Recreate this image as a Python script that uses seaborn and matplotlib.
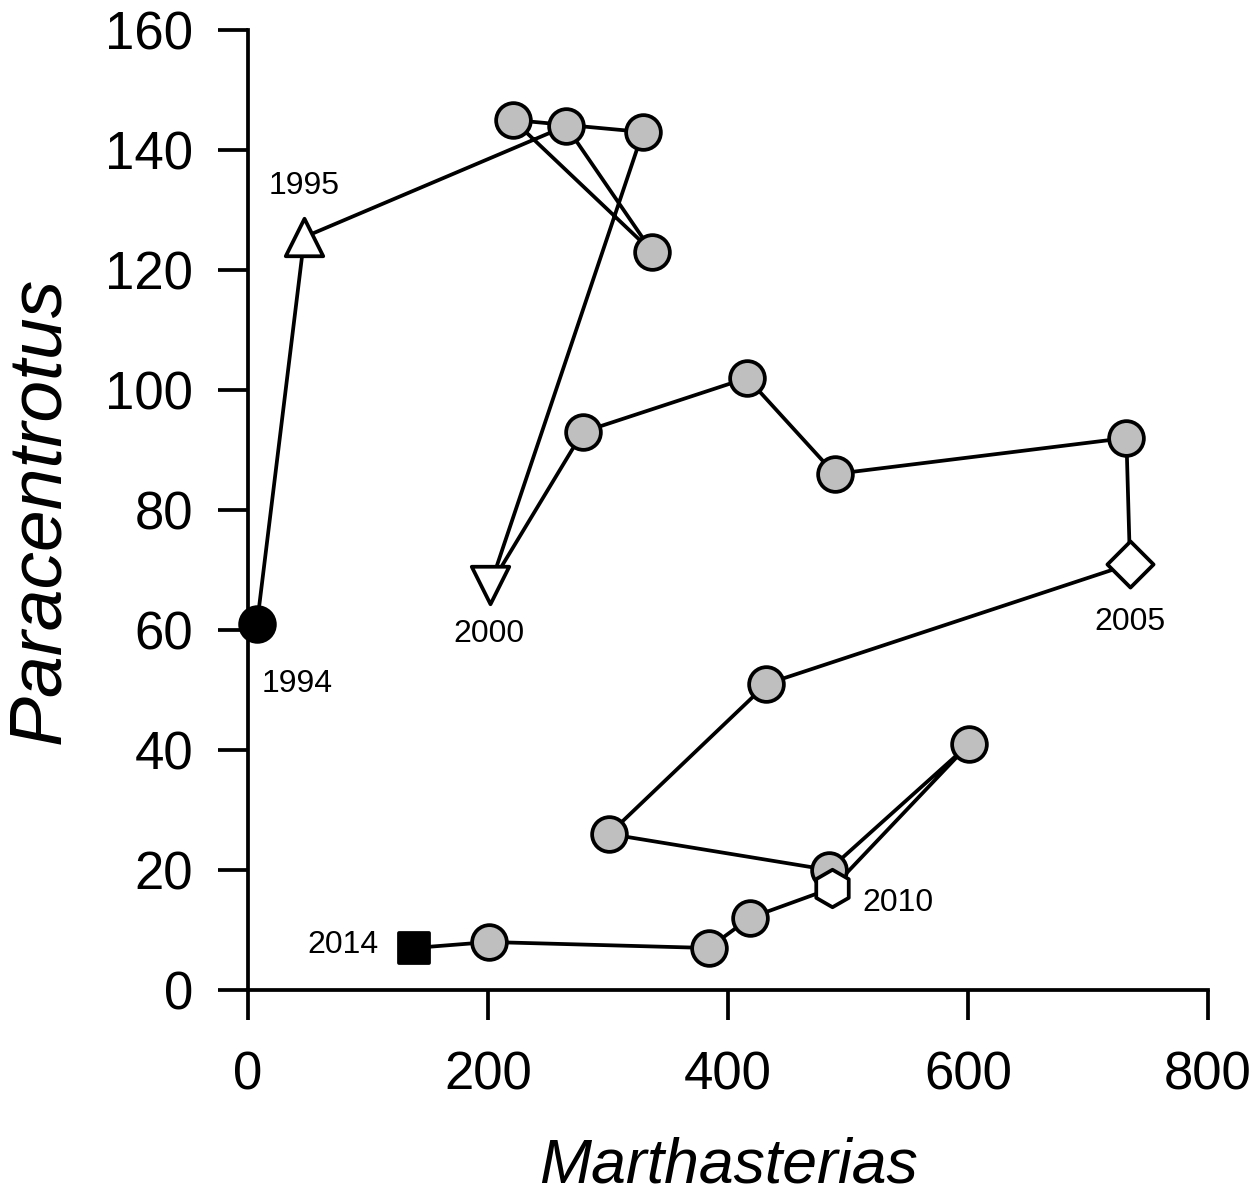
import matplotlib
matplotlib.use("Agg")
import matplotlib.pyplot as plt
import seaborn as sns
import pandas as pd

# Annual trajectory of sea-star (Marthasterias) vs sea-urchin (Paracentrotus) densities
years = list(range(1994, 2015))
marthasterias = [7.5, 47, 265, 337, 221, 329, 202, 279, 416, 489, 732, 735,
                 432, 301, 484, 601, 487, 418, 384, 201, 138]
paracentrotus = [61, 125.5, 144, 123, 145, 143, 67.5, 93, 102, 86, 92, 71,
                 51, 26, 20, 41, 17, 12, 7, 8, 7]

labelled_years = [1994, 1995, 2000, 2005, 2010, 2014]
label_offsets = [(29, -43), (0, 37), (-1, -35), (0, -42), (47, -11), (-51, 2)]

df = pd.DataFrame({"year": years, "Marthasterias": marthasterias,
                   "Paracentrotus": paracentrotus})

sns.set_theme(style="ticks")
plt.rcParams["font.family"] = ["Liberation Sans", "DejaVu Sans"]

fig = plt.figure(figsize=(12.6, 11.95), dpi=100)
ax = fig.add_axes([248 / 1260, 1 - 990 / 1195, 960 / 1260, 960 / 1195])

lw = 2.7
sns.lineplot(data=df, x="Marthasterias", y="Paracentrotus", sort=False,
             estimator=None, color="black", linewidth=lw, ax=ax,
             zorder=2, clip_on=False)

# marker style for each year
styles = {
    1994: dict(marker="o", color="black", s=25 ** 2),
    1995: dict(marker="^", color="white", s=27 ** 2),
    2000: dict(marker="v", color="white", s=27 ** 2),
    2005: dict(marker="D", color="white", s=23.5 ** 2),
    2010: dict(marker="h", color="white", s=27 ** 2),
    2014: dict(marker="s", color="black", s=21 ** 2),
}
default_style = dict(marker="o", color="#bfbfbf", s=25 ** 2)

for yr in years:
    st = styles.get(yr, default_style)
    sub = df[df["year"] == yr]
    sns.scatterplot(data=sub, x="Marthasterias", y="Paracentrotus",
                    marker=st["marker"], color=st["color"], s=st["s"],
                    edgecolor="black", linewidth=lw, ax=ax, zorder=3,
                    clip_on=False, legend=False)

for yr, (dx, dy) in zip(labelled_years, label_offsets):
    row = df[df["year"] == yr].iloc[0]
    ax.annotate(str(yr), xy=(row["Marthasterias"], row["Paracentrotus"]),
                xytext=(dx, dy), textcoords="offset points",
                ha="center", va="center", fontsize=23, color="black")

ax.set_xlim(0, 800)
ax.set_ylim(0, 160)
ax.set_xticks([0, 200, 400, 600, 800])
ax.set_yticks([0, 20, 40, 60, 80, 100, 120, 140, 160])
ax.tick_params(axis="both", direction="out", length=21.5, width=lw,
               labelsize=38, colors="black")
ax.tick_params(axis="x", pad=22)
ax.tick_params(axis="y", pad=18)

for side in ["top", "right"]:
    ax.spines[side].set_visible(False)
for side in ["left", "bottom"]:
    ax.spines[side].set_linewidth(lw)
    ax.spines[side].set_color("black")
    ax.spines[side].set_capstyle("projecting")

ax.set_xlabel("Marthasterias", fontsize=45, fontstyle="italic", labelpad=26,
              color="black")
ax.set_ylabel("Paracentrotus", fontsize=54, fontstyle="italic", labelpad=22,
              color="black")
ax.set_facecolor("white")
fig.patch.set_facecolor("white")

fig.savefig("out.png", dpi=100, facecolor="white")
